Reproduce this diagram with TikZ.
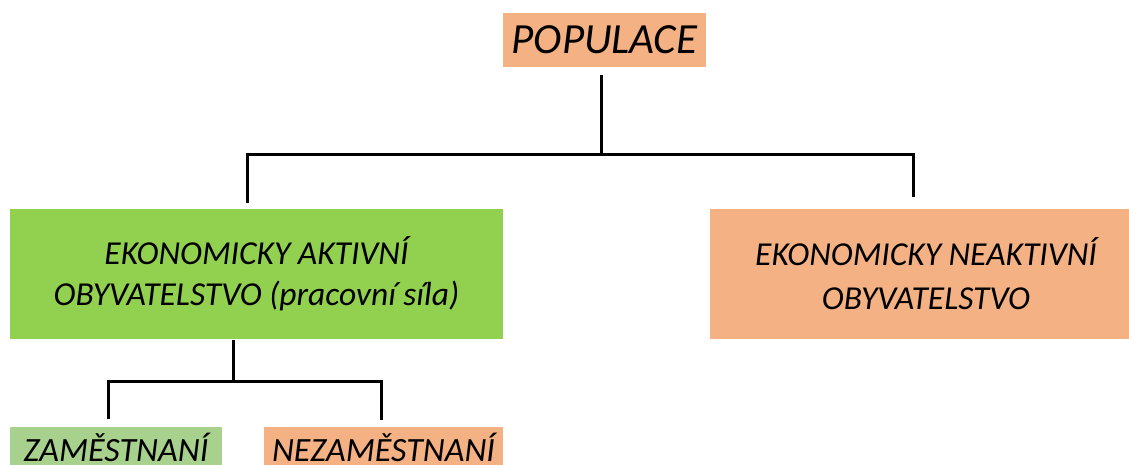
\documentclass[tikz,border=0pt]{standalone}
\usepackage{fontspec}
\setmainfont{Carlito}
\definecolor{peach}{HTML}{F4B183}
\definecolor{lgreen}{HTML}{92D050}
\definecolor{pgreen}{HTML}{A9D18E}
\begin{document}
\begin{tikzpicture}[x=1pt,y=-1pt,
  box/.style={rectangle,inner sep=0pt,align=center,font=\itshape},
  conn/.style={draw=black,line width=3pt}]
\clip (0,0) rectangle (1129,465);
\fill[white] (0,0) rectangle (1129,465);
\node[box,fill=peach,minimum width=203pt,minimum height=54pt,font=\itshape\fontsize{43}{50}\selectfont] (pop) at (604.5,40) {POPULACE};
\node[box,fill=lgreen,minimum width=493pt,minimum height=130pt,font=\itshape\fontsize{33.5}{41}\selectfont] (act) at (256.5,274) {EKONOMICKY AKTIVNÍ\\OBYVATELSTVO (pracovní síla)};
\node[box,fill=peach,minimum width=432pt,minimum height=130pt,font=\itshape\fontsize{33.5}{44}\selectfont] (inact) at (926,274) {EKONOMICKY NEAKTIVNÍ\\OBYVATELSTVO};
\node[box,fill=pgreen,minimum width=212pt,minimum height=48pt,text height=21pt,text depth=0pt,font=\itshape\fontsize{34}{40}\selectfont] (emp) at (116,451) {ZAMĚSTNANÍ};
\node[box,fill=peach,minimum width=239pt,minimum height=48pt,text height=21pt,text depth=0pt,font=\itshape\fontsize{34}{40}\selectfont] (unemp) at (383.5,451) {NEZAMĚSTNANÍ};
% top connector
\coordinate (t0) at (601,75);
\coordinate (tm) at (601,155);
\coordinate (tl) at (247,155);
\coordinate (tr) at (913,155);
\draw[conn] (t0) -- (tm);
\draw[conn] ([xshift=-1.5pt]tl) -- ([xshift=1.5pt]tr);
\draw[conn] ([yshift=1.5pt]tl) -- ([yshift=6pt]act.north -| tl);
\draw[conn] ([yshift=1.5pt]tr) -- ([yshift=12pt]inact.north -| tr);
% bottom connector
\coordinate (b0) at ([yshift=-1pt]act.south -| 233,0);
\coordinate (bm) at (233,381);
\coordinate (bl) at (108,381);
\coordinate (br) at (381,381);
\draw[conn] (b0) -- (bm);
\draw[conn] ([xshift=-1.5pt]bl) -- ([xshift=1.5pt]br);
\draw[conn] ([yshift=1.5pt]bl) -- ([yshift=8pt]emp.north -| bl);
\draw[conn] ([yshift=1.5pt]br) -- ([yshift=7pt]unemp.north -| br);
\end{tikzpicture}
\end{document}
